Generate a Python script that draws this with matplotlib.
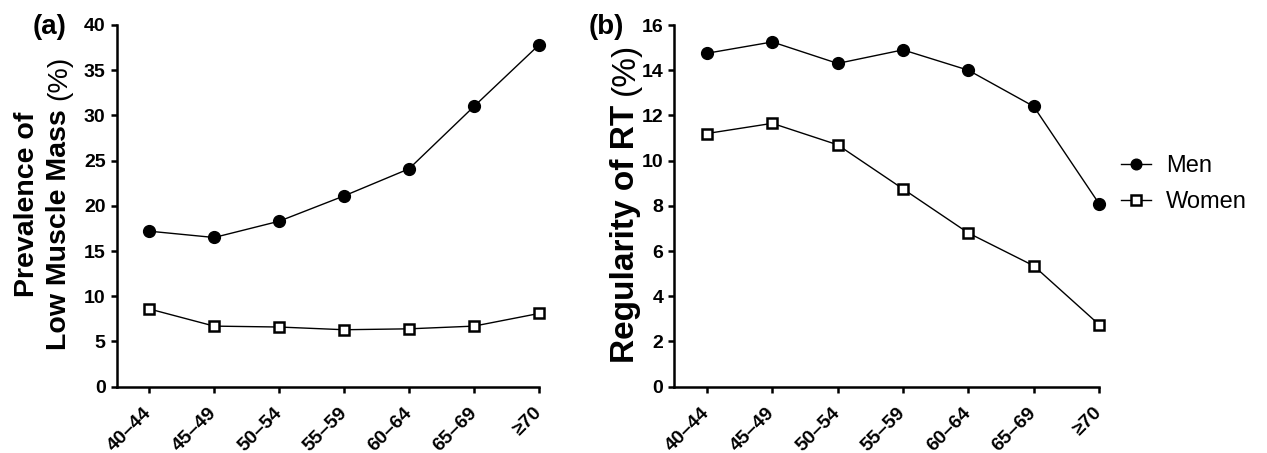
import matplotlib
matplotlib.use("Agg")
import matplotlib.pyplot as plt

plt.rcParams['font.family'] = ['Liberation Sans', 'DejaVu Sans']

# --- data ---
age_groups = ["40\u201344", "45\u201349", "50\u201354", "55\u201359", "60\u201364", "65\u201369", "\u226570"]
low_mass_men = [17.2, 16.5, 18.3, 21.1, 24.1, 31.0, 37.8]
low_mass_women = [8.6, 6.7, 6.6, 6.3, 6.4, 6.7, 8.1]
rt_men = [14.75, 15.25, 14.3, 14.9, 14.0, 12.4, 8.1]
rt_women = [11.2, 11.65, 10.7, 8.75, 6.8, 5.35, 2.75]
a_yticks = [0, 5, 10, 15, 20, 25, 30, 35, 40]
b_yticks = [0, 2, 4, 6, 8, 10, 12, 14, 16]

W, H = 1267, 453
fig = plt.figure(figsize=(W / 100, H / 100), dpi=100)
ax_a = fig.add_axes([116.7 / W, 1 - 386.7 / H, (539 - 116.7) / W, (386.7 - 25) / H])
ax_b = fig.add_axes([674.3 / W, 1 - 386.7 / H, (1099 - 674.3) / W, (386.7 - 25) / H])


def style_axis(ax, yticks):
    x = list(range(len(age_groups)))
    ax.set_xlim(-0.5, len(age_groups) - 1)
    ax.set_ylim(yticks[0], yticks[-1])
    ax.set_yticks(yticks)
    ax.set_xticks(x)
    ax.set_xticklabels(age_groups, rotation=45, ha="right", va="center",
                       rotation_mode="anchor", fontsize=14, fontweight="bold")
    for lab in ax.get_yticklabels():
        lab.set_fontsize(14)
        lab.set_fontweight("bold")
    ax.spines["top"].set_visible(False)
    ax.spines["right"].set_visible(False)
    for s in ("left", "bottom"):
        ax.spines[s].set_linewidth(1.8)
    ax.tick_params(axis="both", direction="out", length=4, width=1.8, pad=4)
    ax.tick_params(axis="x", pad=13)
    return x


def draw_series(ax, x, men, women):
    ax.plot(x, men, color="black", lw=1.0, marker="o", ms=8.5, mfc="black",
            mec="black", label="Men", clip_on=False, zorder=3)
    ax.plot(x, women, color="black", lw=1.0, marker="s", ms=7.8, mfc="white",
            mec="black", mew=1.8, label="Women", clip_on=False, zorder=3)


x = style_axis(ax_a, a_yticks)
draw_series(ax_a, x, low_mass_men, low_mass_women)
x = style_axis(ax_b, b_yticks)
draw_series(ax_b, x, rt_men, rt_women)

# panel letters
fig.text(33 / W, 1 - 27 / H, "(a)", fontsize=20, fontweight="bold", ha="left", va="center")
fig.text(589 / W, 1 - 27 / H, "(b)", fontsize=20, fontweight="bold", ha="left", va="center")

# rotated y labels, bold text followed by a regular "(%)"
renderer = fig.canvas.get_renderer()


def rotated_label(xpix, ycenter_pix, bold_txt, reg_txt, size):
    kw = dict(rotation=90, rotation_mode="anchor", ha="left", va="baseline", fontsize=size)
    parts = [fig.text(xpix / W, 0, bold_txt, fontweight="bold", **kw)]
    if reg_txt:
        parts.append(fig.text(xpix / W, 0, reg_txt, **kw))
    gap = size * 0.3 * 100 / 72
    lengths = [p.get_window_extent(renderer).height for p in parts]
    total = sum(lengths) + gap * (len(parts) - 1)
    y = (H - ycenter_pix) - total / 2
    for p, L in zip(parts, lengths):
        p.set_y(y / H)
        y += L + gap


rotated_label(34, 204, "Prevalence of", "", 20.5)
rotated_label(66, 203, "Low Muscle Mass", "(%)", 20.5)
rotated_label(634, 203, "Regularity of RT", "(%)", 24)

# legend
handles, labels = ax_b.get_legend_handles_labels()
fig.legend(handles, labels, loc="center left", bbox_to_anchor=(1121 / W, 1 - 184 / H),
           frameon=False, fontsize=17, handlelength=1.25, handletextpad=0.65,
           labelspacing=0.6, borderpad=0, borderaxespad=0, markerscale=0.9)

fig.savefig("out.png", dpi=100)
